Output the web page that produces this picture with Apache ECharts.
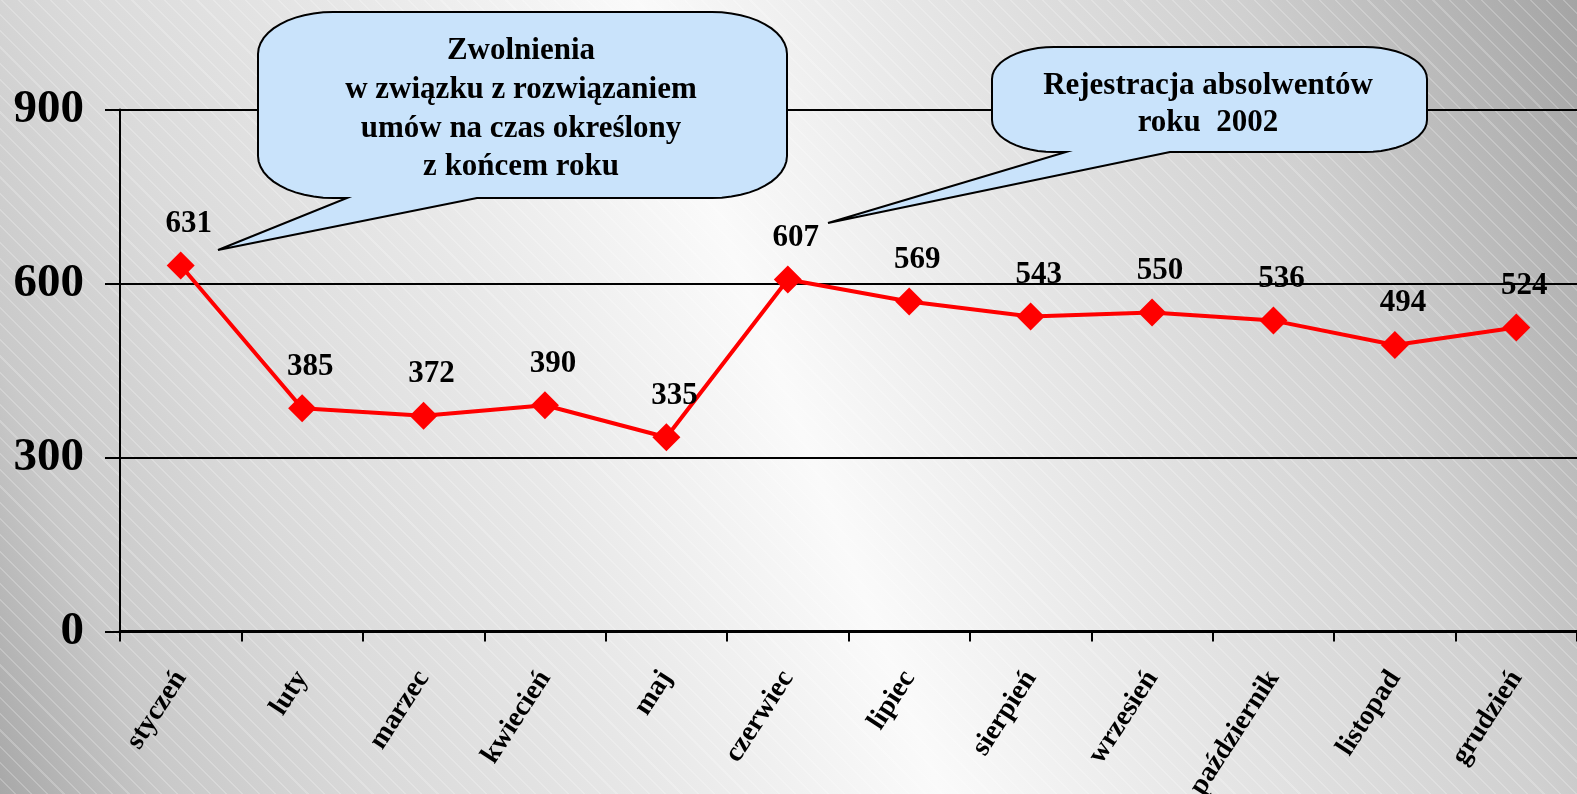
<!doctype html>
<html>
<head>
<meta charset="utf-8">
<title>Bezrobotni zarejestrowani</title>
<script src="https://cdn.jsdelivr.net/npm/echarts@6/dist/echarts.min.js"></script>
<style>
html,body{margin:0;padding:0;}
#chart{
	width:1577px;height:794px;
	background:
		repeating-linear-gradient(45deg, rgba(255,255,255,0) 0px, rgba(255,255,255,0) 10px, rgba(255,255,255,0.22) 10px, rgba(255,255,255,0.22) 11.5px),
		linear-gradient(69deg, #a8a8a8 0%, #c9c9c9 9%, #dadada 20%, #e8e8e8 35%, #fafafa 50%, #e8e8e8 63%, #d0d0d0 82%, #a4a4a4 100%);
}
</style>
</head>

<body>
<div id="chart"></div>
<script type="text/javascript">
var months=['styczeń','luty','marzec','kwiecień','maj','czerwiec','lipiec','sierpień','wrzesień','październik','listopad','grudzień'];
var values=[631,385,372,390,335,607,569,543,550,536,494,524];
var yTicks=[0,300,600,900];
var note1='Zwolnienia\nw związku z rozwiązaniem\numów na czas określony\nz końcem roku';
var note2='Rejestracja absolwentów\nroku  2002';

var font='"Liberation Serif","Times New Roman",serif';
var mychart=echarts.init(document.getElementById('chart'));

// dymek: prostokąt z eliptycznymi rogami + ogonek, jako wielokąt
function corner(pts,cx,cy,rx,ry,a0,a1){
	for(var i=0;i<=12;i++){
		var a=a0+(a1-a0)*i/12;
		pts.push([cx+rx*Math.cos(a),cy+ry*Math.sin(a)]);
	}
}
function bubble(l,t,r,b,rx,ry,t1,t2,tx,ty){
	var p=[],PI=Math.PI;
	corner(p,r-rx,t+ry,rx,ry,-PI/2,0);
	corner(p,r-rx,b-ry,rx,ry,0,PI/2);
	p.push([t2,b],[tx,ty],[t1,b]);
	corner(p,l+rx,b-ry,rx,ry,PI/2,PI);
	corner(p,l+rx,t+ry,rx,ry,PI,PI*1.5);
	return p;
}

mychart.setOption({
	backgroundColor:'transparent',
	animation:false,
	grid:{left:120,right:0,top:109.5,bottom:162.5,containLabel:false,outerBoundsMode:'none'},
	xAxis:{
		type:'category',
		data:months,
		boundaryGap:true,
		axisLine:{lineStyle:{color:'#000',width:3}},
		axisTick:{show:true,length:10,lineStyle:{color:'#000',width:2}},
		axisLabel:{
			rotate:57,
			margin:42,
			color:'#000',
			fontFamily:font,
			fontWeight:'bold',
			fontSize:28
		}
	},
	yAxis:{
		type:'value',
		min:yTicks[0],
		max:yTicks[yTicks.length-1],
		interval:300,
		axisLine:{show:true,lineStyle:{color:'#000',width:2}},
		axisTick:{show:true,length:15,lineStyle:{color:'#000',width:2}},
		splitLine:{lineStyle:{color:'#000',width:2}},
		axisLabel:{
			margin:36,
			color:'#000',
			fontFamily:font,
			fontWeight:'bold',
			fontSize:47
		}
	},
	series:[{
		type:'line',
		data:values,
		symbol:'diamond',
		symbolSize:28,
		lineStyle:{color:'#ff0000',width:4},
		itemStyle:{color:'#ff0000'},
		label:{
			show:true,
			position:'top',
			distance:12,
			offset:[8,0],
			color:'#000',
			fontFamily:font,
			fontWeight:'bold',
			fontSize:31
		},
		z:3
	}],
	graphic:[
		{
			type:'polygon',
			z:10,
			shape:{points:bubble(258,12,787,198,75,42,347,477,218,250)},
			style:{fill:'#c9e3fb',stroke:'#000',lineWidth:2}
		},
		{
			type:'text',
			z:11,
			x:521,
			y:32,
			style:{
				text:note1,
				textAlign:'center',
				textVerticalAlign:'top',
				fill:'#000',
				fontFamily:font,
				fontWeight:'bold',
				fontSize:31,
				lineHeight:38.7
			}
		},
		{
			type:'polygon',
			z:10,
			shape:{points:bubble(992,47,1427,152,62,32,1066,1170,828,223)},
			style:{fill:'#c9e3fb',stroke:'#000',lineWidth:2}
		},
		{
			type:'text',
			z:11,
			x:1208,
			y:67,
			style:{
				text:note2,
				textAlign:'center',
				textVerticalAlign:'top',
				fill:'#000',
				fontFamily:font,
				fontWeight:'bold',
				fontSize:31,
				lineHeight:37.5
			}
		}
	]
});
</script>
</body>
</html>
